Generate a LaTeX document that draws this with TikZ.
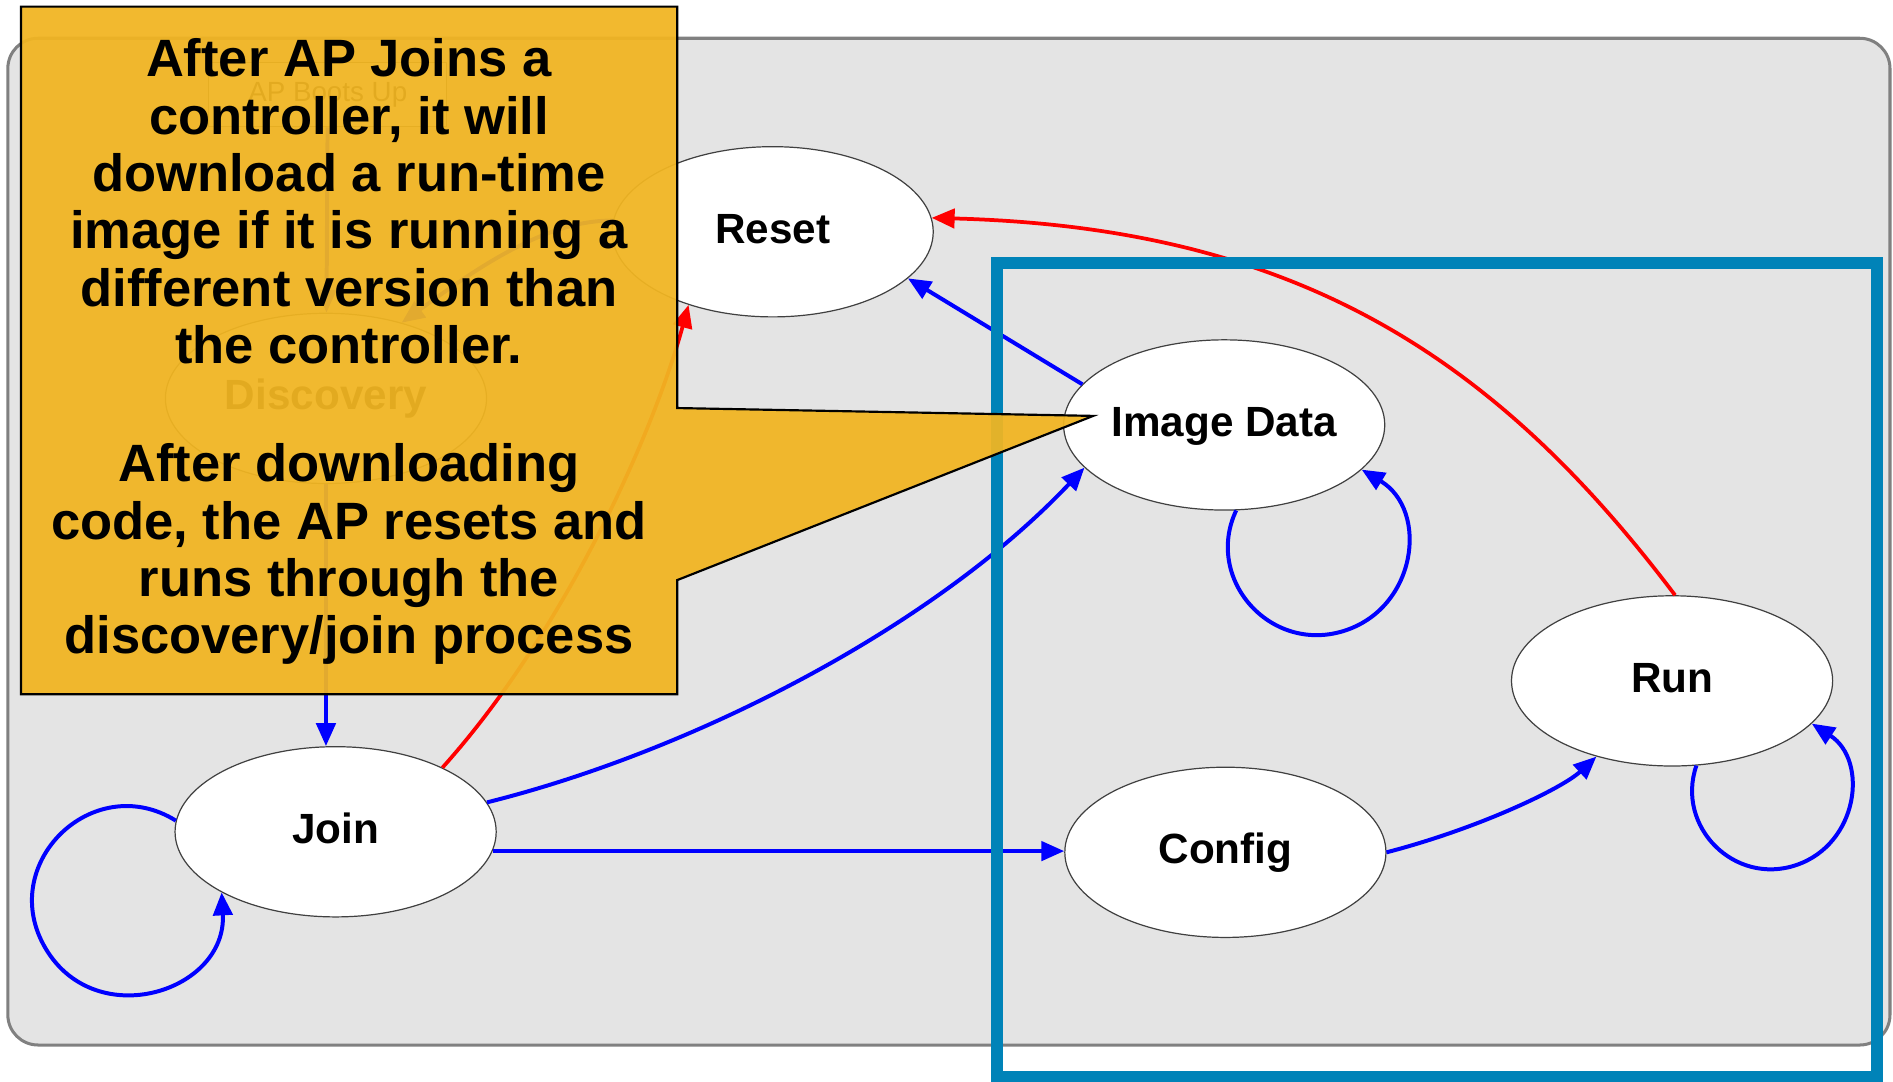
\documentclass[tikz,border=0pt]{standalone}
\usepackage{fontspec}
\setmainfont{Liberation Sans}
\usetikzlibrary{arrows.meta,shapes.geometric}
\definecolor{framegray}{RGB}{228,228,228}
\definecolor{frameedge}{RGB}{128,128,128}
\definecolor{boxblue}{RGB}{0,131,184}
\definecolor{notegold}{RGB}{241,181,34}
\begin{document}
\begin{tikzpicture}[x=1pt,y=1pt,>={Triangle[length=19pt,width=16pt]},
  state/.style={ellipse,draw=black!75,line width=1pt,fill=white,minimum width=266pt,
    minimum height=141pt,inner sep=0pt,text height=25pt,text depth=6pt,
    font=\bfseries\fontsize{35}{40}\selectfont},
  fwd/.style={->,draw=blue,line width=3.3pt},
  back/.style={->,draw=red,line width=3.1pt},
  notetext/.style={align=center,anchor=north,inner sep=0pt,
    font=\bfseries\fontsize{43.5}{47.5}\selectfont}]
  \useasboundingbox (0,0) rectangle (1568,896);
  \draw[frameedge,fill=framegray,line width=2.5pt,rounded corners=25pt] (6.5,30.4) rectangle (1565.5,864.3);
  % states
  \node[draw=black!75,line width=1pt,fill=white,minimum width=197pt,minimum height=53pt,
    inner sep=0pt,font=\fontsize{23}{27}\selectfont] (boot) at (271.5,817.5) {AP Boots Up};
  \node[state] (discovery) at (270,566) {Discovery};
  \node[state] (reset) at (640,704) {Reset};
  \node[state] (imgdata) at (1014,544) {Image Data};
  \node[state] (join) at (278,207) {Join};
  \node[state] (config) at (1015,190) {Config};
  \node[state] (run) at (1385,332) {Run};
  % transitions
  \draw[fwd] (boot) -- (discovery);
  \draw[fwd] (reset.176) .. controls (450,714) and (390,670) .. (discovery.45);
  \draw[fwd] (discovery.south) -- (discovery.south |- join.north);
  \draw[back] (join.31) .. controls (466,371) and (540,533) .. (reset.221);
  \draw[fwd] (imgdata.164) -- (reset.341);
  \draw[back] (run.88) .. controls (1238,601) and (1073.5,707.5) .. (reset.5);
  \draw[fwd] (join.11) .. controls (578,275) and (776,379) .. (imgdata.197);
  \draw[fwd] (join.353) -- (join.353 -| config.west);
  \draw[fwd] (config.east) .. controls (1225.5,210) and (1294,243) .. (run.225);
  % loops
  \draw[fwd] (join.176) .. controls (77,259) and (-4,180) .. (38,110)
    .. controls (80,40) and (188,75) .. (join.208);
  \draw[fwd] (imgdata.278) .. controls (997.3,416.8) and (1051.6,354.7) .. (1112.5,373.2)
    .. controls (1173.4,391.7) and (1184.1,473.1) .. (imgdata.342);
  \draw[fwd] (run.286) .. controls (1387.7,211.3) and (1436.7,162) .. (1488,179.5)
    .. controls (1539.3,197) and (1547.9,266) .. (run.343);
  \draw[boxblue,line width=10pt] (825.7,4) rectangle (1555,678.5);
  % callout
  \draw[line width=1.8pt,fill=notegold,fill opacity=0.94] (17.4,890.5) -- (561,890.5) -- (561,558)
    -- (905.5,551.5) -- (561,415.5) -- (561,321) -- (17.4,321) -- cycle;
  \node[notetext] (note1) at (289,864.2) {After AP Joins a\\controller, it will\\download a run-time\\image if it is running a\\different version than\\the controller.};
  \node[notetext] (note2) at (289,528.7) {After downloading\\code, the AP resets and\\runs through the\\discovery/join process};
\end{tikzpicture}
\end{document}
